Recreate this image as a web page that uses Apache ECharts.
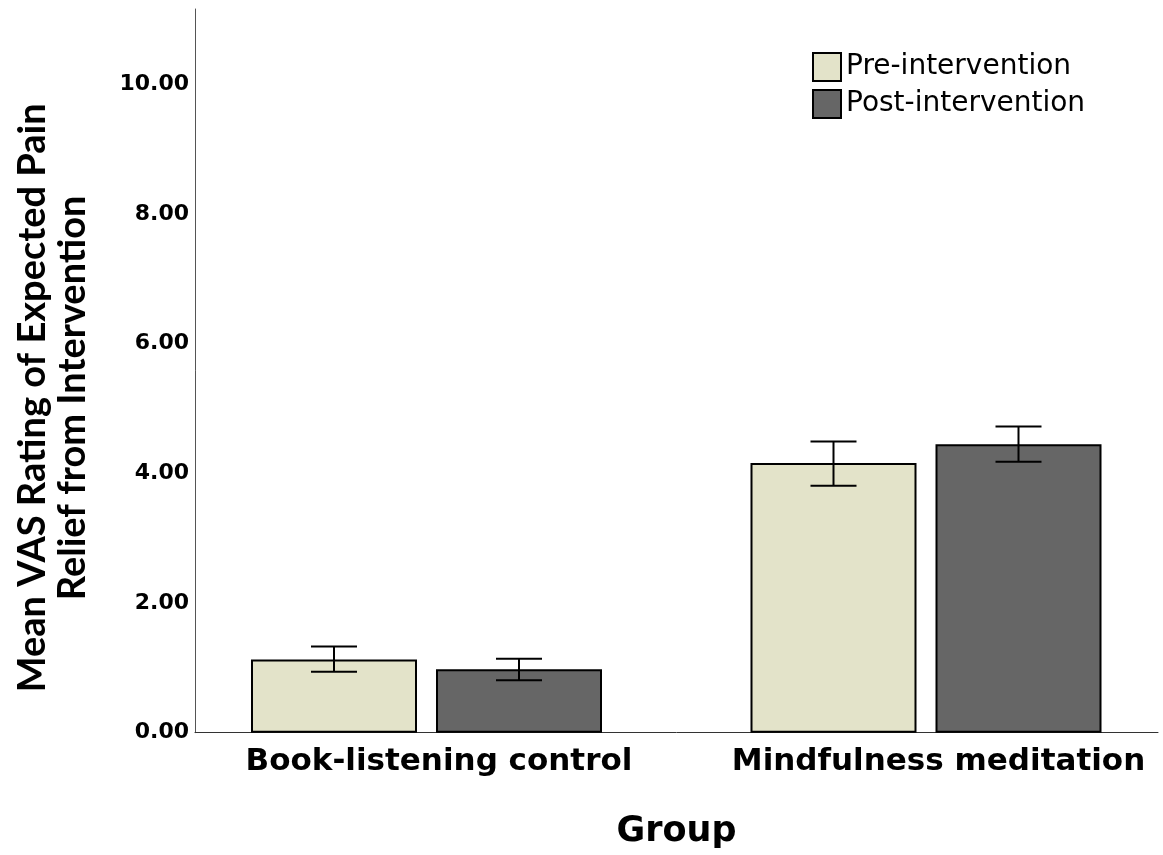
<!DOCTYPE html>
<html>
<head>
<meta charset="utf-8">
<script src="https://cdn.jsdelivr.net/npm/echarts@6/dist/echarts.min.js"></script>
<style>html,body{margin:0;padding:0;background:#fff;}#c{width:1163px;height:855px;}</style>
</head>
<body>
<div id="c"></div>
<script>
const categories = ['Book-listening control', 'Mindfulness meditation'];
const seriesNames = ['Pre-intervention', 'Post-intervention'];
const preMeans = [1.13, 4.16];
const postMeans = [0.98, 4.45];
const preErrLow = [0.94, 3.81];
const preErrHigh = [1.33, 4.49];
const postErrLow = [0.81, 4.18];
const postErrHigh = [1.14, 4.72];
const yTickValues = [0, 2, 4, 6, 8, 10];

const FONT = 'DejaVu Sans';
const barWidth = 166;
const barGapPx = 19;
const yMax = 11.16;

function errSeries(low, high, dir) {
  return {
    type: 'custom',
    xAxisIndex: 1, yAxisIndex: 1,
    z: 10,
    silent: true,
    data: categories.map((c, i) => [i, low[i], high[i]]),
    renderItem: function (params, api) {
      const off = dir * (barWidth + barGapPx) / 2;
      const pLow = api.coord([api.value(0), api.value(1)]);
      const pHigh = api.coord([api.value(0), api.value(2)]);
      const x = pLow[0] + off;
      const cap = 23;
      const st = { stroke: '#000', lineWidth: 2 };
      return {
        type: 'group',
        children: [
          { type: 'line', shape: { x1: x, y1: pLow[1], x2: x, y2: pHigh[1] }, style: st },
          { type: 'line', shape: { x1: x - cap, y1: pLow[1], x2: x + cap, y2: pLow[1] }, style: st },
          { type: 'line', shape: { x1: x - cap, y1: pHigh[1], x2: x + cap, y2: pHigh[1] }, style: st }
        ]
      };
    }
  };
}

const chart = echarts.init(document.getElementById('c'), null, { renderer: 'canvas' });
chart.setOption({
  backgroundColor: '#fff',
  animation: false,
  legend: {
    orient: 'vertical',
    left: 812, top: 52, padding: 0,
    itemWidth: 28, itemHeight: 28, itemGap: 7,
    icon: 'rect',
    data: seriesNames,
    textStyle: { fontFamily: FONT, fontSize: 28, color: '#000' }
  },
  grid: [
    { left: 195, right: 5, top: 9, bottom: 122.3, containLabel: false, outerBoundsMode: 'none' },
    { left: 176.75, right: -12.75, top: 9, bottom: 122.3, containLabel: false, outerBoundsMode: 'none' }
  ],
  xAxis: [
    {
      gridIndex: 0, type: 'category', data: categories,
      axisLine: { show: true, lineStyle: { color: '#333', width: 1 } },
      axisTick: { show: false }, axisLabel: { show: false },
      name: 'Group', nameLocation: 'middle', nameGap: 82,
      nameTextStyle: { fontFamily: FONT, fontSize: 35, fontWeight: 'bold', color: '#000' }
    },
    {
      gridIndex: 1, type: 'category', data: categories,
      axisLine: { show: false }, axisTick: { show: false },
      axisLabel: { show: true, interval: 0, hideOverlap: false, margin: 14, padding: [0, 0, 0, 25], fontFamily: FONT, fontSize: 31, fontWeight: 'bold', color: '#000' }
    }
  ],
  yAxis: [
    {
      gridIndex: 0, type: 'value', min: 0, max: yMax, interval: 2,
      axisLine: { show: true, lineStyle: { color: '#555', width: 1 } },
      axisTick: { show: false }, splitLine: { show: false },
      axisLabel: {
        margin: 6, fontFamily: FONT, fontSize: 22, fontWeight: 'bold', color: '#000',
        showMaxLabel: false,
        formatter: function (v) { return yTickValues.indexOf(v) >= 0 ? v.toFixed(2) : ''; }
      },
      name: 'Mean VAS Rating of Expected Pain\nRelief from Intervention',
      nameLocation: 'middle', nameGap: 102,
      nameTextStyle: { fontFamily: 'Lato', fontSize: 38, fontWeight: 'bold', color: '#000', lineHeight: 40, padding: [0, 54, 0, 0] }
    },
    {
      gridIndex: 1, type: 'value', min: 0, max: yMax, interval: 2,
      show: false, splitLine: { show: false }
    }
  ],
  series: [
    {
      name: seriesNames[0], type: 'bar', xAxisIndex: 1, yAxisIndex: 1,
      data: preMeans, barWidth: barWidth, barGap: (barGapPx / barWidth * 100) + '%',
      itemStyle: { color: '#e3e3c9', borderColor: '#000', borderWidth: 2 }
    },
    {
      name: seriesNames[1], type: 'bar', xAxisIndex: 1, yAxisIndex: 1,
      data: postMeans, barWidth: barWidth, barGap: (barGapPx / barWidth * 100) + '%',
      itemStyle: { color: '#666666', borderColor: '#000', borderWidth: 2 }
    },
    errSeries(preErrLow, preErrHigh, -1),
    errSeries(postErrLow, postErrHigh, 1)
  ]
});
</script>
</body>
</html>
